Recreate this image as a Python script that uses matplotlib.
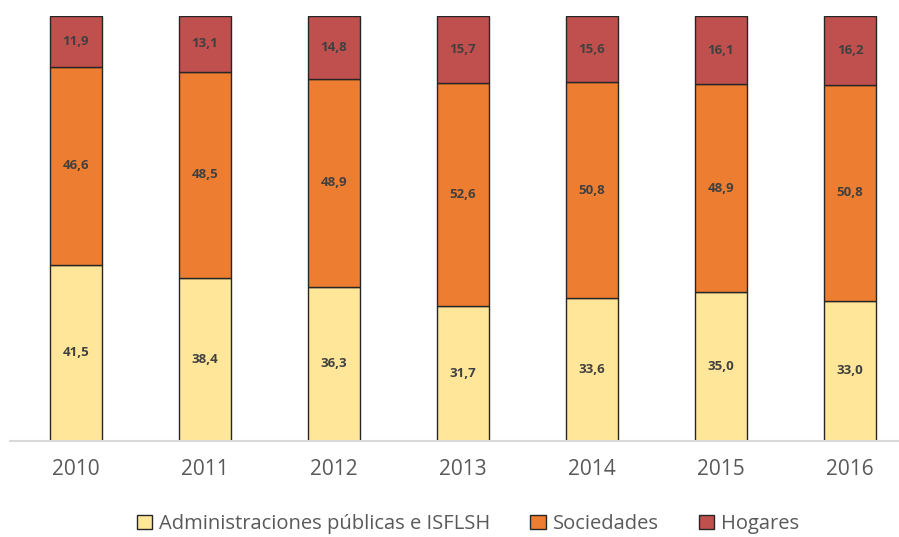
import numpy as np
import matplotlib
matplotlib.use("Agg")
import matplotlib.pyplot as plt
from matplotlib.patches import Patch

years = ["2010", "2011", "2012", "2013", "2014", "2015", "2016"]
admin = [41.5, 38.4, 36.3, 31.7, 33.6, 35.0, 33.0]
sociedades = [46.6, 48.5, 48.9, 52.6, 50.8, 48.9, 50.8]
hogares = [11.9, 13.1, 14.8, 15.7, 15.6, 16.1, 16.2]

series_names = ["Administraciones públicas e ISFLSH", "Sociedades", "Hogares"]
colors = ["#FFE699", "#ED7D31", "#C0504D"]

plt.rcParams['font.family'] = ['Open Sans', 'DejaVu Sans']

W, H = 899, 537
fig = plt.figure(figsize=(W / 100, H / 100), dpi=100)
ax = fig.add_axes([10 / W, (H - 441) / H, (899 - 10) / W, (441 - 16) / H])

x = np.arange(len(years))
bottom = np.zeros(len(years))
for vals, color in zip([admin, sociedades, hogares], colors):
    vals = np.array(vals)
    ax.bar(x, vals, width=0.40, bottom=bottom, color=color,
           edgecolor="#262626", linewidth=1.0, zorder=2)
    for xi, b, v in zip(x, bottom, vals):
        ax.text(xi, b + v / 2, f"{v:.1f}".replace(".", ","),
                ha="center", va="center", fontsize=9.5, fontweight="bold",
                color="#404040", zorder=3)
    bottom += vals

ax.set_xlim(-66 / 129, (899 - 76) / 129)
ax.set_ylim(0, 100)
for s in ["top", "right", "left"]:
    ax.spines[s].set_visible(False)
ax.spines["bottom"].set_color("#D9D9D9")
ax.spines["bottom"].set_linewidth(1.5)
ax.set_yticks([])
ax.set_xticks(x)
ax.set_xticklabels(years, fontsize=15, color="#595959")
ax.tick_params(axis="x", length=0, pad=13)

handles = [Patch(facecolor=c, edgecolor="#262626", linewidth=1.0) for c in colors]
fig.legend(handles, series_names, loc="center", bbox_to_anchor=(468 / W, 1 - 524 / H),
           ncol=3, frameon=False, fontsize=14.5, handlelength=0.75, handleheight=0.75,
           handletextpad=0.35, columnspacing=2.0, labelcolor="#595959")

fig.savefig("out.png", dpi=100)
